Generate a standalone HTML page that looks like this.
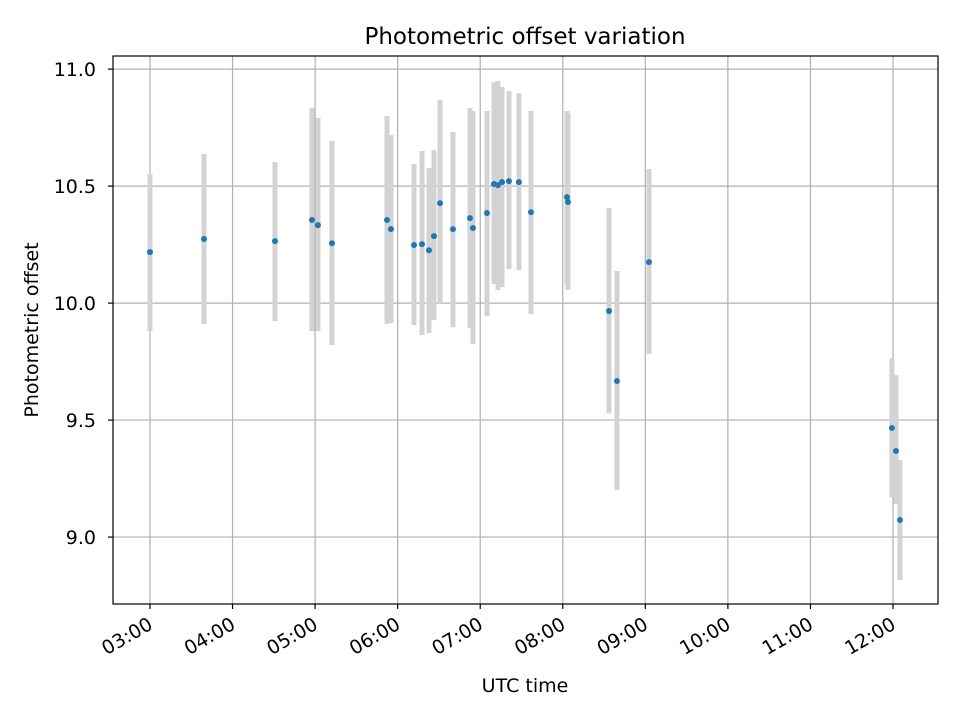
<!DOCTYPE html>
<html><head><meta charset="utf-8"><style>
body{margin:0;background:#fff}
svg{font-family:"DejaVu Sans","Liberation Sans",sans-serif}
</style></head><body>
<svg id="chart" width="960" height="720" xmlns="http://www.w3.org/2000/svg">
<rect width="960" height="720" fill="#fff"/>
<g id="grid"></g>
<g id="bars"></g>
<g id="pts"></g>
<rect x="113" y="56" width="825" height="548" fill="none" stroke="#000" stroke-width="1.2"/>
<g id="axes"></g>
<text x="525" y="44" text-anchor="middle" font-size="23">Photometric offset variation</text>
<text x="525" y="692" text-anchor="middle" font-size="19">UTC time</text>
<text transform="translate(38,330) rotate(-90)" text-anchor="middle" font-size="19">Photometric offset</text>
</svg>
<script>
const times=[3.0,3.654,4.514,4.962,5.035,5.204,5.871,5.919,6.198,6.295,6.379,6.440,6.513,6.670,6.876,6.912,7.082,7.167,7.215,7.264,7.348,7.469,7.615,8.051,8.063,8.560,8.656,9.044,11.987,12.036,12.084];
const offsets=[10.218,10.274,10.265,10.355,10.333,10.256,10.355,10.316,10.248,10.252,10.226,10.286,10.427,10.316,10.363,10.321,10.385,10.509,10.504,10.517,10.521,10.517,10.389,10.453,10.432,9.966,9.667,10.175,9.466,9.368,9.073];
const upper=[10.551,10.637,10.603,10.833,10.791,10.692,10.799,10.718,10.594,10.650,10.577,10.654,10.868,10.731,10.833,10.821,10.821,10.944,10.949,10.923,10.906,10.897,10.821,10.821,10.812,10.406,10.137,10.573,9.765,9.692,9.329];
const lower=[9.880,9.910,9.923,9.880,9.880,9.821,9.910,9.915,9.906,9.863,9.872,9.927,9.996,9.897,9.893,9.825,9.944,10.081,10.056,10.068,10.145,10.141,9.953,10.081,10.056,9.530,9.201,9.782,9.171,9.141,8.816];
const xTicks=[3,4,5,6,7,8,9,10,11,12];
const xTickLabels=["03:00","04:00","05:00","06:00","07:00","08:00","09:00","10:00","11:00","12:00"];
const yTicks=[9.0,9.5,10.0,10.5,11.0];
const yTickLabels=["9.0","9.5","10.0","10.5","11.0"];
const NS="http://www.w3.org/2000/svg";
const X0=113,X1=938,Y0=56,Y1=604,xmin=2.552,xmax=12.545,ymin=8.714,ymax=11.056;
const xs=v=>X0+(v-xmin)/(xmax-xmin)*(X1-X0);
const ys=v=>Y1-(v-ymin)/(ymax-ymin)*(Y1-Y0);
function mk(tag,attrs,parent){const e=document.createElementNS(NS,tag);for(const k in attrs)e.setAttribute(k,attrs[k]);document.getElementById(parent).appendChild(e);return e;}
xTicks.forEach((t,i)=>{const x=xs(t);
 let g=mk('line',{x1:x,x2:x,y1:Y0,y2:Y1,stroke:'#b0b0b0','stroke-width':1.2},'grid');
 
 
 let tk=mk('line',{x1:x,x2:x,y1:Y1,y2:Y1+5,stroke:'#000','stroke-width':1.2},'axes');
 
 
 let tx=mk('text',{'font-size':19,'text-anchor':'end',transform:`translate(${x+4},${Y1+24}) rotate(-30)`},'axes');
 tx.textContent=xTickLabels[i];
 
 
});
yTicks.forEach((t,i)=>{const y=ys(t);
 let g=mk('line',{x1:X0,x2:X1,y1:y,y2:y,stroke:'#b0b0b0','stroke-width':1.2},'grid');
 
 
 let tk=mk('line',{x1:X0-5,x2:X0,y1:y,y2:y,stroke:'#000','stroke-width':1.2},'axes');
 
 
 let tx=mk('text',{'font-size':19,'text-anchor':'end',x:X0-17,y:y+7},'axes');
 tx.textContent=yTickLabels[i];
 
 
});
times.forEach((t,i)=>{const x=xs(t);
 let b=mk('line',{x1:x,x2:x,y1:ys(upper[i]),y2:ys(lower[i]),stroke:'#d3d3d3','stroke-width':5},'bars');
 
 
});
times.forEach((t,i)=>{
 let c=mk('circle',{cx:xs(t),cy:ys(offsets[i]),r:3,fill:'#1f77b4'},'pts');
 
 
});
</script>
</body></html>
